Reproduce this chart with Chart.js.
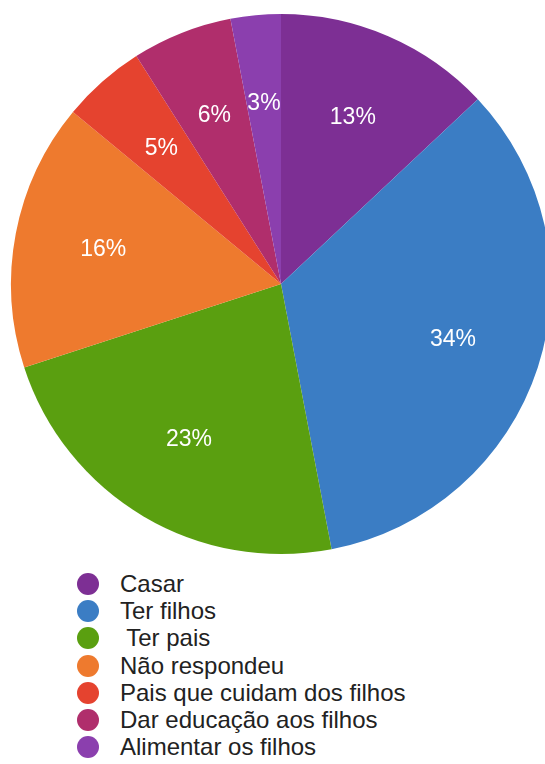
<!DOCTYPE html>
<html>
<head>
<meta charset="utf-8">
<script src="https://cdn.jsdelivr.net/npm/chart.js@4.4.1/dist/chart.umd.min.js"></script>
<style>
  html, body { margin: 0; padding: 0; background: #fff; overflow: hidden; width: 545px; height: 764px; }
  #pie-chart { position: absolute; left: 0; top: 0; }
  #legend { position: absolute; left: 77px; top: 570px; font-family: "Liberation Sans", Arial, sans-serif; font-size: 24px; color: #222; }
  .row { height: 27.3px; display: flex; align-items: center; white-space: pre; }
  .dot { width: 22px; height: 22px; border-radius: 50%; margin-right: 21px; flex: none; }
</style>
</head>
<body>
<canvas id="pie-chart" width="562" height="564"></canvas>
<div id="legend"></div>
<script>
// data
const labels = [
  "Casar",
  "Ter filhos",
  " Ter pais",
  "Não respondeu",
  "Pais que cuidam dos filhos",
  "Dar educação aos filhos",
  "Alimentar os filhos",
];
const values = [13, 34, 23, 16, 5, 6, 3];
const colors = [
  "#7d2f94", // purple
  "#3b7dc4", // blue
  "#5a9f10", // green
  "#ee7a2e", // orange
  "#e5432f", // red
  "#b02e6c", // magenta
  "#8b3fae", // light purple
];

// writes the percent in the middle of each slice
const sliceLabels = {
  id: "sliceLabels",
  afterDatasetsDraw(chart) {
    const ctx = chart.ctx;
    const meta = chart.getDatasetMeta(0);
    ctx.save();
    ctx.fillStyle = "#fff";
    ctx.font = "23px 'Liberation Sans', Arial, sans-serif";
    ctx.textAlign = "center";
    ctx.textBaseline = "middle";
    meta.data.forEach((arc, i) => {
      const mid = (arc.startAngle + arc.endAngle) / 2;
      const r = arc.outerRadius * 0.67;
      ctx.fillText(values[i] + "%", arc.x + Math.cos(mid) * r, arc.y + Math.sin(mid) * r);
    });
    ctx.restore();
  },
};

const pieChart = new Chart(document.getElementById("pie-chart"), {
  type: "pie",
  data: {
    labels: labels,
    datasets: [{ data: values, backgroundColor: colors, borderWidth: 0 }],
  },
  options: {
    responsive: false,
    animation: false,
    layout: { padding: { left: 11, right: 11, top: 14, bottom: 10 } },
    plugins: { legend: { display: false }, tooltip: { enabled: false } },
  },
  plugins: [sliceLabels],
});

// legend built from the same arrays
const legend = document.getElementById("legend");
labels.forEach((label, i) => {
  const row = document.createElement("div");
  row.className = "row";
  const dot = document.createElement("span");
  dot.className = "dot";
  dot.style.background = colors[i];
  const text = document.createElement("span");
  text.textContent = label;
  row.appendChild(dot);
  row.appendChild(text);
  legend.appendChild(row);
});
</script>
</body>
</html>
